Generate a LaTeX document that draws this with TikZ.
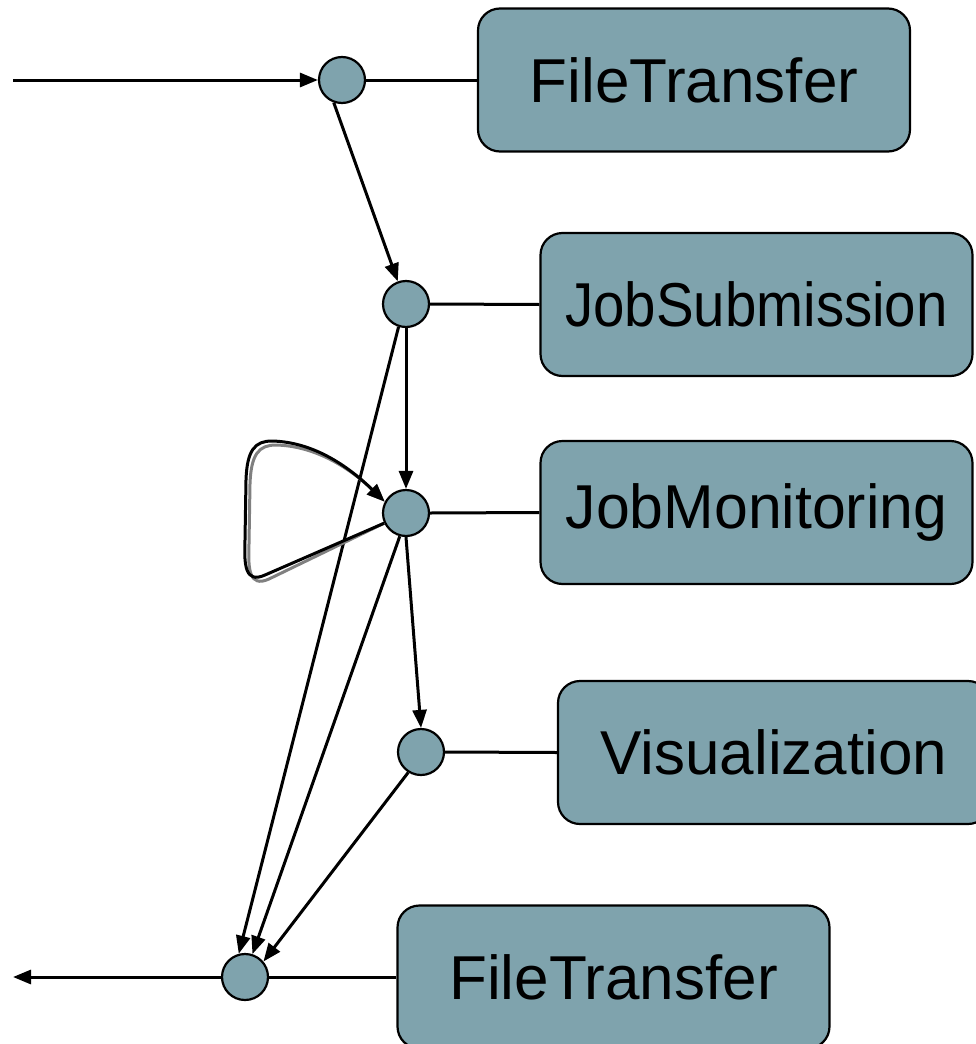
\documentclass[tikz,border=0pt]{standalone}
\usepackage{fontspec}
\setmainfont{Liberation Sans}
\usetikzlibrary{arrows.meta,positioning}
\definecolor{nodeteal}{RGB}{127,163,173}

\begin{document}
\begin{tikzpicture}[x=1pt,y=-1pt,
  svc/.style={rectangle,rounded corners=22pt,draw=black,line width=2.2pt,fill=nodeteal,
    minimum width=432pt,minimum height=143pt,inner sep=0pt,font=\fontsize{62}{64}\selectfont},
  port/.style={circle,draw=black,line width=2.2pt,fill=nodeteal,minimum size=46pt,inner sep=0pt},
  link/.style={line width=3pt},
  flow/.style={line width=3pt,-{Triangle[length=18pt,width=14pt]}}]
\useasboundingbox (0,0) rectangle (976,1044);
\clip (0,0) rectangle (976,1044);
% service boxes
\node[svc] (ftin) at (694,80) {FileTransfer};
\node[svc] (jsub) at (756.5,304.5) {\scalebox{0.91}[1]{JobSubmission}};
\node[svc] (jmon) at (756.5,512.5) {\scalebox{0.98}[1]{JobMonitoring}};
\node[svc] (vis) at (774,752.5) {Visualization};
\node[svc] (ftout) at (613.5,977) {FileTransfer};
% ports
\node[port] (p1) at (342,80) {};
\node[port] (p2) at (406,304) {};
\node[port] (p3) at (406,513) {};
\node[port] (p4) at (421,752) {};
\node[port] (p5) at (245,977) {};
\foreach \p/\b in {p1/ftin,p2/jsub,p3/jmon,p4/vis,p5/ftout}{
  \draw[link] (\p.east) -- (\b.west);}
% control flow
\coordinate (src) at (13,80);
\coordinate (sink) at (13,977);
\draw[flow] (src) -- (p1.west);
\draw[flow] (p1.250) -- (p2.110);
\draw[flow] (p2.south) -- (p3.north);
\draw[flow] (p3.south) -- (p4.north);
\draw[flow] (p2.252) -- (p5.105);
\draw[flow] (p3.255) -- (p5.72);
\draw[flow] (p4.238) -- (p5.40);
\draw[flow] (p5.west) -- (sink);
% polling loop on the monitor
\begin{scope}[shift={(4,4)}]
\draw[flow,gray] (p3.205) -- (265,575) .. controls (245,584) and (244,565) .. (245,540)
  -- (246,480) .. controls (247,450) and (255,441) .. (272,441)
  .. controls (315,442) and (350,468) .. (p3.152);
\end{scope}
\draw[flow] (p3.205) -- (265,575) .. controls (245,584) and (244,565) .. (245,540)
  -- (246,480) .. controls (247,450) and (255,441) .. (272,441)
  .. controls (315,442) and (350,468) .. (p3.152);
\end{tikzpicture}
\end{document}
